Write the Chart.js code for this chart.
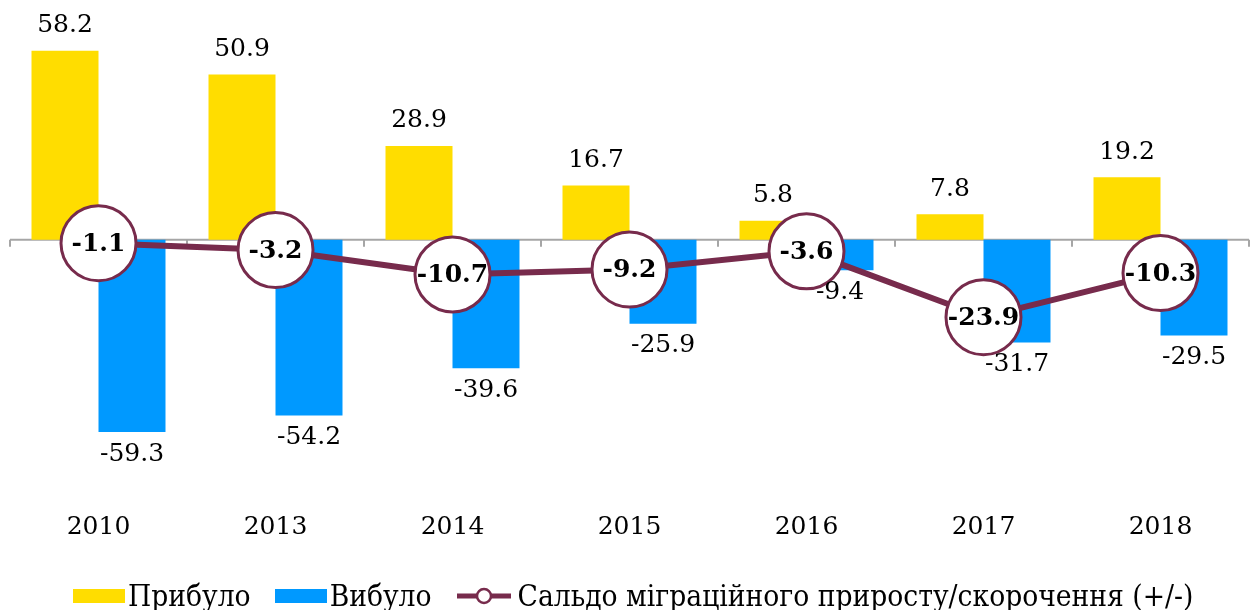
<!DOCTYPE html>
<html lang="uk">
<head>
  <meta charset="UTF-8">
  <title>Міграція</title>
  <script src="https://cdn.jsdelivr.net/npm/chart.js"></script>
  <style>
    body { margin: 0; background: #fff; }
    #wrap { position: relative; width: 1254px; height: 610px; overflow: hidden; }
    #legend {
      position: absolute; left: 73px; top: 579px;
      display: flex; align-items: center;
      font-family: 'DejaVu Serif', serif; font-stretch: condensed;
      font-size: 29.6px; color: #000; white-space: nowrap;
    }
    .box { width: 52px; height: 14px; margin-right: 3px; }
    .item { display: flex; align-items: center; margin-right: 24px; }
  </style>
</head>
<body>
  <div id="wrap">
    <canvas id="chart" width="1254" height="610"></canvas>
    <div id="legend">
      <div class="item"><div class="box" style="background:#FFDD00"></div>Прибуло</div>
      <div class="item"><div class="box" style="background:#0099FF"></div>Вибуло</div>
      <div class="item">
        <svg width="56" height="20" style="margin-right:6px">
          <line x1="1" y1="10" x2="55" y2="10" stroke="#772B4C" stroke-width="5"/>
          <circle cx="28" cy="10" r="7" fill="#fff" stroke="#772B4C" stroke-width="2.5"/>
        </svg>Сальдо міграційного приросту/скорочення (+/-)
      </div>
    </div>
  </div>

  <script>
    const years = ['2010', '2013', '2014', '2015', '2016', '2017', '2018'];
    const arrived = [58.2, 50.9, 28.9, 16.7, 5.8, 7.8, 19.2];
    const departed = [-59.3, -54.2, -39.6, -25.9, -9.4, -31.7, -29.5];
    const balance = [-1.1, -3.2, -10.7, -9.2, -3.6, -23.9, -10.3];

    // zero line with small ticks at category boundaries
    const zeroAxis = {
      id: 'zeroAxis',
      beforeDatasetsDraw(chart) {
        const { ctx, chartArea, scales } = chart;
        const y0 = scales.y.getPixelForValue(0);
        const step = (chartArea.right - chartArea.left) / years.length;
        ctx.save();
        ctx.strokeStyle = '#A6A6A6';
        ctx.lineWidth = 2;
        ctx.beginPath();
        ctx.moveTo(chartArea.left, y0);
        ctx.lineTo(chartArea.right, y0);
        for (let i = 0; i <= years.length; i++) {
          const x = Math.round(chartArea.left + i * step);
          ctx.moveTo(x, y0);
          ctx.lineTo(x, y0 + 7);
        }
        ctx.stroke();
        ctx.restore();
      }
    };

    const valueLabels = {
      id: 'valueLabels',
      afterDatasetsDraw(chart) {
        const ctx = chart.ctx;
        ctx.save();
        ctx.textAlign = 'center';
        ctx.textBaseline = 'middle';
        ctx.fillStyle = '#000';
        ctx.font = '25px "DejaVu Serif", serif';
        chart.getDatasetMeta(0).data.forEach((bar, i) => {
          ctx.fillText(arrived[i].toFixed(1), bar.x, bar.y - 25);
        });
        chart.getDatasetMeta(1).data.forEach((bar, i) => {
          ctx.fillText(departed[i].toFixed(1), bar.x, bar.y + 22);
        });
        ctx.font = 'bold 25px "DejaVu Serif", serif';
        chart.getDatasetMeta(2).data.forEach((pt, i) => {
          ctx.fillText(balance[i].toFixed(1), pt.x, pt.y + 1);
        });
        ctx.restore();
      }
    };

    new Chart(document.getElementById('chart'), {
      type: 'bar',
      data: {
        labels: years,
        datasets: [
          {
            label: 'Прибуло',
            data: arrived,
            backgroundColor: '#FFDD00',
            categoryPercentage: 0.757,
            barPercentage: 1,
            order: 1
          },
          {
            label: 'Вибуло',
            data: departed,
            backgroundColor: '#0099FF',
            categoryPercentage: 0.757,
            barPercentage: 1,
            order: 1
          },
          {
            type: 'line',
            label: 'Сальдо міграційного приросту/скорочення (+/-)',
            data: balance,
            borderColor: '#772B4C',
            borderWidth: 6,
            tension: 0,
            pointRadius: 37.5,
            pointBorderWidth: 3,
            pointBackgroundColor: '#fff',
            pointBorderColor: '#772B4C',
            order: 0
          }
        ]
      },
      options: {
        responsive: false,
        animation: false,
        layout: { autoPadding: false, padding: { left: 10, right: 5, top: 19, bottom: 61 } },
        plugins: {
          legend: { display: false },
          tooltip: { enabled: false }
        },
        scales: {
          x: {
            grid: { display: false },
            border: { display: false },
            ticks: {
              color: '#000',
              padding: 7,
              font: { family: '"DejaVu Serif", serif', size: 25 }
            }
          },
          y: {
            display: false,
            min: -79.3,
            max: 68
          }
        }
      },
      plugins: [zeroAxis, valueLabels]
    });
  </script>
</body>
</html>
